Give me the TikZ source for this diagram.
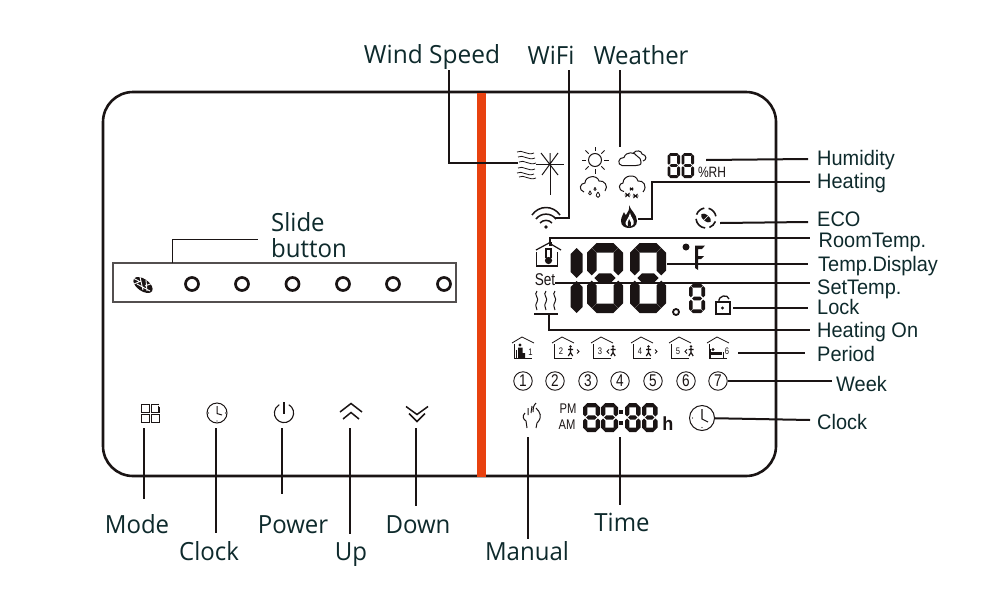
\documentclass[tikz,border=0pt]{standalone}
\usepackage{fontspec}
\setmainfont{Open Sans}
\newfontfamily\labfont[FakeStretch=0.96]{Open Sans}
\newfontfamily\sidefont[FakeStretch=0.95]{Liberation Sans}
\newfontfamily\narrowfont[FakeStretch=0.8]{Liberation Sans}
\definecolor{ink}{HTML}{1A1414}
\definecolor{labelink}{HTML}{0E2A2C}
\definecolor{barred}{HTML}{E8410F}
\tikzset{
  lead/.style={draw=ink,line width=2pt},
  thinlead/.style={draw=ink,line width=1pt},
  bigl/.style={font=\labfont\fontsize{25}{26}\selectfont,text=labelink,inner sep=0pt,anchor=base},
  sidel/.style={font=\sidefont\fontsize{21}{22}\selectfont,text=labelink,inner sep=0pt,anchor=base west},
  icon/.style={draw=ink,line width=1pt,fill=none},
  iconthin/.style={draw=ink,line width=0.8pt,fill=none},
  dial/.style={draw=ink,line width=2.7pt,fill=none},
}
% horizontal and vertical LCD segments: x1,x2,y,t
\newcommand{\segH}[4]{\fill[ink] ({#1},{#3}) -- ({#1+#4/2},{#3-#4/2}) -- ({#2-#4/2},{#3-#4/2}) -- ({#2},{#3}) -- ({#2-#4/2},{#3+#4/2}) -- ({#1+#4/2},{#3+#4/2}) -- cycle;}
\newcommand{\segV}[4]{\fill[ink] ({#3},{#1}) -- ({#3-#4/2},{#1+#4/2}) -- ({#3-#4/2},{#2-#4/2}) -- ({#3},{#2}) -- ({#3+#4/2},{#2-#4/2}) -- ({#3+#4/2},{#1+#4/2}) -- cycle;}
% full digit 8: x,y,w,h,t,gap
\newcommand{\eightseg}[6]{%
  \segH{#1+#6+#5/4}{#1+#3-#6-#5/4}{#2+#5/2}{#5}
  \segH{#1+#6+#5/2}{#1+#3-#6-#5/2}{#2+#4/2}{#5}
  \segH{#1+#6+#5/4}{#1+#3-#6-#5/4}{#2+#4-#5/2}{#5}
  \segV{#2+#6+#5/4}{#2+#4/2-#6}{#1+#5/2}{#5}
  \segV{#2+#6+#5/4}{#2+#4/2-#6}{#1+#3-#5/2}{#5}
  \segV{#2+#4/2+#6}{#2+#4-#6-#5/4}{#1+#5/2}{#5}
  \segV{#2+#4/2+#6}{#2+#4-#6-#5/4}{#1+#3-#5/2}{#5}
}
% house with number, for the period row
\newcommand{\housebase}[2]{%
  \draw[iconthin] (#1-11,#2-7) -- (#1-1,#2-13) -- (#1+11,#2-7);
  \draw[iconthin] (#1-9,#2-6) -- (#1-9,#2+8) -- (#1+9,#2+8);
}
\newcommand{\walker}[2]{%
  \fill[ink] (#1,#2-4.5) circle (1.3);
  \draw[ink,line width=1.2pt] (#1,#2-3) -- (#1,#2+1.5) (#1-2.5,#2-1.5) -- (#1+2.5,#2-1.5) (#1,#2+1.5) -- (#1-2.2,#2+5) (#1,#2+1.5) -- (#1+2.2,#2+5);
}
\newcommand{\tinynum}[3]{\node[inner sep=0pt,font=\narrowfont\fontsize{9.5}{10}\selectfont,text=ink] at (#1,#2) {#3};}
\begin{document}
\begin{tikzpicture}[x=1pt,y=-1pt]
\useasboundingbox (0,0) rectangle (1000,600);
\fill[white] (0,0) rectangle (1000,600);
% frame and bar
\draw[draw=ink,line width=2.6pt,rounded corners=30pt] (103,92) rectangle (776,476);
\fill[barred] (477,93) rectangle (486,477);

% slide button
\node[draw=ink!75,line width=1.1pt,minimum width=343pt,minimum height=39pt,inner sep=0pt] (slide) at (284.5,282.5) {};
\foreach \cx [count=\i] in {192,242,292.5,343,393,444} {\node[circle,dial,minimum size=13pt,inner sep=0pt] (dot\i) at (\cx,284) {};}
\fill[ink,rotate around={-35:(143,285)}] (143,285) ellipse (11 and 6);
\draw[white,line width=0.9pt] (133,278) -- (139,281) (137,284) -- (150,291) (140,277) -- (143,290) (146,280) -- (147,291) (134,284)--(141,281) (145,286)--(153,283);
\node[bigl,anchor=base west] (slideA) at (271,231) {Slide};
\node[bigl,anchor=base west] (slideB) at (271,257) {button};
\coordinate (slideTop) at (172,263);
\coordinate (slideEnd) at (258,239);
\draw[thinlead] (slideTop) |- (slideEnd);

% bottom icons
\foreach \a/\b in {141/404,151/404,141/414,151/414} {\draw[icon] (\a,\b) rectangle ++(8.5,8.5);}
\draw[draw=white,fill=white] (158,403) rectangle (161,406);
\draw[icon] (158.5,406) -- (158.5,412);
\fill[ink] (158.5,404.5) circle (0.6);
\node[circle,icon,minimum size=20pt,inner sep=0pt] (clockBtn) at (217,413) {};
\draw[icon] (217,406) -- (217,413.5) -- (222,415);
\foreach \p in {(208.5,413),(225.5,413),(217,421)} {\fill[ink] \p circle (0.6);}
\draw[icon,line width=1.1pt] (284,413) ++(-60:9.6) arc[start angle=-60,end angle=240,radius=9.6];
\draw[icon,line width=1.1pt] (284,402) -- (284,414);
\draw[icon,line width=1.5pt] (340,412) -- (351,403.5) -- (362,412) (343,419) -- (351,412.5) -- (359,419);
\draw[icon,line width=1.5pt] (406,406.5) -- (417,414.5) -- (428,406.5) (409,413.5) -- (417,421.5) -- (425,413.5);

% bottom labels
\node[bigl] (lMode) at (137,533) {Mode};
\node[bigl] (lClockB) at (209,560) {Clock};
\node[bigl] (lPower) at (293,533) {Power};
\node[bigl] (lUp) at (351,560) {Up};
\node[bigl] (lDown) at (418,533) {Down};
\node[bigl] (lManual) at (527,560) {Manual};
\node[bigl] (lTime) at (622,531) {Time};
\foreach \n/\xx/\ya/\yb in {m/144/428/499,c/216/428/533,p/282/428/494,u/350/428/534,d/416/428/506,ma/528/437/539,t/620/437/505} {
  \coordinate (a\n) at (\xx,\ya);
  \coordinate (b\n) at (\xx,\yb);
  \draw[lead] (a\n) -- (b\n);
}

% top labels
\node[bigl,xscale=1.02] (lWind) at (432,63) {Wind Speed};
\node[bigl] (lWifi) at (551,64) {WiFi};
\node[bigl] (lWeather) at (641,64) {Weather};
\coordinate (windTop) at (449,70);
\coordinate (windEnd) at (518,163);
\draw[lead] (windTop) |- (windEnd);
\coordinate (wifiTop) at (569,70);
\coordinate (wifiEnd) at (555,218);
\draw[lead] (wifiTop) |- (wifiEnd);
\coordinate (weatherTop) at (620,70);
\coordinate (weatherEnd) at (620,147);
\draw[lead] (weatherTop) -- (weatherEnd);

% wind icon
\foreach \yy/\xs in {152/517,157/518,162/519,168/518,173/517,177/519} {
  \draw[iconthin] (\xs,\yy) .. controls (\xs+5,\yy-3) and (\xs+10,\yy+4) .. (\xs+17,\yy+1);
}
\draw[iconthin,line width=1pt] (536,164) -- (564,164) (550,164) -- (550,195);
\draw[iconthin,line width=1pt] (541,153) -- (558,175) (558,153) -- (542,175) (550,153) -- (550,164);
% sun
\draw[icon] (595,160) circle (6.5);
\foreach \ang in {0,45,...,315} {\draw[icon] (595,160) ++(\ang:9) -- ++(\ang:4.5);}
% clouds
\draw[icon] (622,165.5) .. controls (617,165) and (618,157) .. (624,157.5) .. controls (626,151) and (635,152) .. (637,156) .. controls (639,158) and (642,159) .. (641,162) .. controls (642,165) and (638,165.5) .. (636,165.5) -- cycle;
\draw[icon] (633,153.5) .. controls (636,149) and (642,151) .. (642,154) .. controls (647,155) and (647,160) .. (643,161);
\draw[icon] (584,192) .. controls (578,190) and (580,183) .. (585,183) .. controls (585,176) and (597,174) .. (599,181) .. controls (604,180) and (609,186) .. (605,191);
\foreach \a/\b/\s in {590/193/0.9,595/189/0.7,598/195/1.2} {\draw[icon,line width=0.8pt] (\a,\b-2.5*\s) .. controls (\a-2*\s,\b) and (\a-2*\s,\b+2*\s) .. (\a,\b+2*\s) .. controls (\a+2*\s,\b+2*\s) and (\a+2*\s,\b) .. (\a,\b-2.5*\s);}
\draw[icon] (624,191.5) .. controls (617,190) and (619,183) .. (623,183) .. controls (623,175) and (636,173) .. (638,181) .. controls (643,180) and (648,186) .. (643,192);
\foreach \a/\b/\s in {627.5/195/3,631.5/189/2,635.5/196/3} {
  \draw[ink,line width=0.9pt] (\a-\s,\b) -- (\a+\s,\b) (\a-0.7*\s,\b-0.7*\s) -- (\a+0.7*\s,\b+0.7*\s) (\a+0.7*\s,\b-0.7*\s) -- (\a-0.7*\s,\b+0.7*\s);
}
% wifi
\fill[ink] (546,227) circle (1.9);
\draw[icon,line width=1.5pt] (532,215) .. controls (539,205) and (553,205) .. (560,215);
\draw[icon,line width=1.5pt] (536,219) .. controls (541,212.5) and (551,212.5) .. (556,219);
\draw[icon,line width=1.5pt] (540,223) .. controls (543,219.5) and (549,219.5) .. (552,223);
% flame
\fill[ink] (629,205) .. controls (630,210) and (637,214) .. (637,221) .. controls (637,226) and (633,228) .. (629,228) .. controls (625,228) and (621,226) .. (621,221) .. controls (621,217) and (623,215) .. (624,212) .. controls (625,214) and (625,215) .. (626,215) .. controls (628,212) and (630,209) .. (629,205) -- cycle;
\fill[white] (630,213) .. controls (631,218) and (635,220) .. (633.5,224) .. controls (632,227) and (627,227) .. (625.5,224) .. controls (624.5,222) and (629,218) .. (630,213) -- cycle;
\fill[ink] (629,219) .. controls (630,222) and (632,223) .. (631,226) -- (628,226) .. controls (627,224) and (628,222) .. (629,219) -- cycle;

% humidity digits
\eightseg{667.5}{153}{12.5}{25}{2.8}{0.8}
\eightseg{681.5}{153}{12.5}{25}{2.8}{0.8}
\node[inner sep=0pt,font=\narrowfont\fontsize{15}{15}\selectfont,text=ink] (rh) at (712,172) {\%RH};

% ECO
\draw[icon,line width=1.6pt] (706,218) ++(20:10) arc[start angle=20,end angle=70,radius=10];
\draw[icon,line width=1.6pt] (706,218) ++(95:10) arc[start angle=95,end angle=175,radius=10];
\draw[icon,line width=1.6pt] (706,218) ++(200:10) arc[start angle=200,end angle=260,radius=10];
\draw[icon,line width=1.6pt] (706,218) ++(285:10) arc[start angle=285,end angle=350,radius=10];
\fill[ink,rotate around={-40:(706,218)}] (706,218) ellipse (6 and 3);
\draw[white,line width=0.5pt] (702,222) -- (710,214);

% big digits
\segV{248}{278}{576.5}{12}
\segV{281}{313}{576.5}{12}
\eightseg{587}{243}{36}{70}{9.5}{2.6}
\eightseg{630}{243}{36}{70}{9.5}{2.6}
\fill[ink] (686,247) circle (3.5);
\fill[ink] (695,245.5) -- (705,245.5) -- (702,249) -- (698,249) -- (698,256) -- (704,256) -- (701,259) -- (698,259) -- (698,270) -- (695,268) -- cycle;
\draw[ink,line width=1.8pt] (676,312) circle (3);
\eightseg{689}{284}{16}{29}{3.6}{1.2}

% room temperature icon
\draw[icon,line width=1.2pt] (536,250) -- (549,243) -- (561,250);
\fill[ink] (549,241.5) rectangle (552,246);
\draw[icon,line width=1.2pt] (536.5,252) -- (536.5,266) -- (557.5,266) -- (557.5,252);
\draw[icon,line width=1.1pt] (546,258) -- (546,249) -- (551,249) -- (551,258);
\fill[ink] (548.5,260.5) circle (3.6);
\node[inner sep=0pt,font=\narrowfont\fontsize{17}{17}\selectfont,text=ink] (setT) at (545,280) {Set};
% heat waves
\foreach \xx in {537,546,555} {
  \draw[icon] (\xx,291) .. controls (\xx-4,295) and (\xx+3,298) .. (\xx,302) .. controls (\xx-2,305) and (\xx-1,307) .. (\xx,310);
}
\draw[icon,line width=1.2pt] (534,314) -- (558,314);
% lock
\draw[icon,line width=1.3pt] (716,302) rectangle (730,314);
\draw[icon,line width=1.3pt] (719,302) .. controls (718,295) and (728,294) .. (729,299);
\fill[ink] (722.5,308) circle (1.7);

% period row
\housebase{523}{350}
\fill[ink] (520,345) circle (1.6);
\fill[ink] (518,347.5) -- (522.5,347.5) -- (522.5,353) -- (525,353) -- (525,358) -- (518,358) -- cycle;
\draw[iconthin] (516,350) -- (516,358);
\tinynum{530.5}{352}{1}
\housebase{563}{350}\tinynum{561}{351}{2}\walker{570.5}{351}
\draw[iconthin] (577,349.5) -- (579,351.5) -- (577,353.5);
\housebase{602}{350}\tinynum{600}{351}{3}\walker{613}{351}
\draw[iconthin] (609,349.5) -- (607,351.5) -- (609,353.5);
\housebase{642}{350}\tinynum{640}{351}{4}\walker{648.5}{351}
\draw[iconthin] (655,349.5) -- (657,351.5) -- (655,353.5);
\housebase{680}{350}\tinynum{678}{351}{5}\walker{691}{351}
\draw[iconthin] (687,349.5) -- (685,351.5) -- (687,353.5);
\housebase{718}{350}\tinynum{727}{351}{6}
\fill[ink] (711,352) rectangle (722,355);
\draw[icon] (710,349) -- (710,358) (723,352) -- (723,358);
\fill[ink] (713,349.5) circle (1.6);
% week
\foreach \cx [count=\d] in {523,555,588,620,653,686,718} {
  \node[circle,draw=ink,line width=0.9pt,minimum size=18.5pt,inner sep=0pt,font=\narrowfont\fontsize{17}{17}\selectfont,text=ink] (w\d) at (\cx,381) {\d};
}
% manual
\draw[icon] (525,413) .. controls (522,416) and (523,419) .. (526,421) -- (527,428);
\draw[icon] (528,408) -- (528,415) (532,406) -- (531,413) (536,403) .. controls (533,406) and (533,409) .. (533,412);
\draw[icon] (536,408) .. controls (540,412) and (543,417) .. (537,423) -- (536,428);
% time
\node[inner sep=0pt,font=\narrowfont\fontsize{14}{14}\selectfont,text=ink] (pm) at (568,409) {PM};
\node[inner sep=0pt,font=\narrowfont\fontsize{14}{14}\selectfont,text=ink] (am) at (567,425) {AM};
\eightseg{583}{403}{17}{29}{4.4}{1}
\eightseg{601}{403}{17}{29}{4.4}{1}
\fill[ink] (619,410) rectangle (622.5,414);
\fill[ink] (619,421) rectangle (622.5,425);
\eightseg{625}{403}{15.5}{29}{4.4}{1}
\eightseg{642}{403}{15.5}{29}{4.4}{1}
\node[inner sep=0pt,font=\bfseries\sidefont\fontsize{19}{19}\selectfont,text=ink] (hh) at (668,424) {h};
% clock right
\node[circle,icon,minimum size=25pt,inner sep=0pt] (clockIcon) at (702,418) {};
\draw[icon,line width=1.1pt] (702,409) -- (702,419) -- (708,422);
\foreach \p in {(692.5,418),(702,427.5)} {\fill[ink] \p circle (0.7);}

% right labels and connectors
\node[sidel] (lHum) at (817,165) {Humidity};
\node[sidel] (lHeat) at (817,188) {Heating};
\node[sidel] (lEco) at (817,226) {ECO};
\node[sidel] (lRoom) at (818.5,247) {RoomTemp.};
\node[sidel] (lDisp) at (818,271) {Temp.Display};
\node[sidel] (lSet) at (817,294) {SetTemp.};
\node[sidel] (lLock) at (817,314) {Lock};
\node[sidel] (lOn) at (817,337) {Heating On};
\node[sidel] (lPer) at (817,361) {Period};
\node[sidel] (lWeek) at (836,391) {Week};
\node[sidel] (lClk) at (817,429) {Clock};

\coordinate (hA) at (706,160); \coordinate (hB) at (808,159);
\draw[lead] (hA) -- (hB);
\coordinate (heA) at (638,219); \coordinate (heM) at (652,182); \coordinate (heB) at (810,182);
\draw[lead] (heA) -| (heM) -- (heB);
\coordinate (eA) at (720,223); \coordinate (eB) at (808,222);
\draw[lead] (eA) -- (eB);
\coordinate (rA) at (550,243); \coordinate (rB) at (810,238);
\draw[lead] (rA) |- (rB);
\coordinate (dA) at (667,264); \coordinate (dB) at (808,264);
\draw[lead] (dA) -- (dB);
\coordinate (sA) at (555,283); \coordinate (sB) at (810,283);
\draw[lead] (sA) -- (sB);
\coordinate (lA) at (733,308); \coordinate (lB) at (808,308);
\draw[lead] (lA) -- (lB);
\coordinate (oA) at (549,314); \coordinate (oB) at (810,330);
\draw[lead] (oA) |- (oB);
\coordinate (pA) at (738,353); \coordinate (pB) at (805,353);
\draw[lead] (pA) -- (pB);
\coordinate (wB) at (832,381);
\draw[lead] (w7) -- (wB);
\coordinate (cB) at (810,420);
\draw[lead] (clockIcon) -- (cB);
\end{tikzpicture}
\end{document}
